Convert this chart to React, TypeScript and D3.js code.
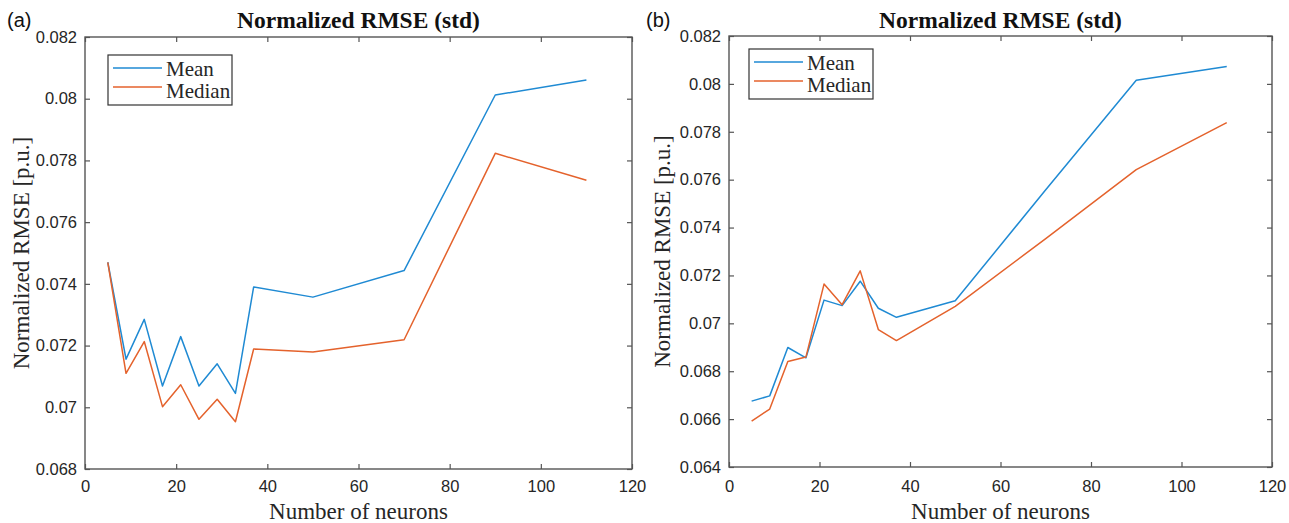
import { useRef, useEffect } from "react";
import * as d3 from "d3";

// number of neurons (x) shared by both panels
const neurons = [5, 9, 13, 17, 21, 25, 29, 33, 37, 50, 70, 90, 110];

// panel (a)
const meanA = [0.0747, 0.07156, 0.07285, 0.07069, 0.07229, 0.07069, 0.07141, 0.07045, 0.0739, 0.07357, 0.07443, 0.08012, 0.08061];
const medianA = [0.0747, 0.0711, 0.07213, 0.07002, 0.07073, 0.06961, 0.07026, 0.06953, 0.07189, 0.07179, 0.07219, 0.07823, 0.07736];

// panel (b)
const meanB = [0.06675, 0.06697, 0.06899, 0.06856, 0.07097, 0.07074, 0.07176, 0.07063, 0.07025, 0.07094, 0.07558, 0.08015, 0.08073];
const medianB = [0.06592, 0.06642, 0.06841, 0.06859, 0.07164, 0.07078, 0.07219, 0.06974, 0.06928, 0.07071, 0.07354, 0.07642, 0.07838];

const xTicks = [0, 20, 40, 60, 80, 100, 120];
const yTicksA = [0.068, 0.07, 0.072, 0.074, 0.076, 0.078, 0.08, 0.082];
const yTicksB = [0.064, 0.066, 0.068, 0.07, 0.072, 0.074, 0.076, 0.078, 0.08, 0.082];

const seriesNames = ["Mean", "Median"];
const title = "Normalized RMSE (std)";
const xLabel = "Number of neurons";
const yLabel = "Normalized RMSE [p.u.]";

const W = 1289, H = 523;
const colors = ["#1f8ad3", "#e4622c"];
const axisColor = "#555";
const textColor = "#262626";
const sans = "'Liberation Sans', Arial, sans-serif";
const serif = "'Liberation Serif', 'Times New Roman', serif";

const panels = [
  { tag: "(a)", tagX: 7, left: 85, right: 632, top: 37, bottom: 469, yTicks: yTicksA, mean: meanA, median: medianA, legX: 108, legY: 55, yLabX: 29 },
  { tag: "(b)", tagX: 646, left: 729, right: 1272, top: 36, bottom: 467, yTicks: yTicksB, mean: meanB, median: medianB, legX: 749, legY: 49, yLabX: 670 },
];

const fmt = (v) => String(+v.toFixed(3));

export default function App() {
  const svgRef = useRef(null);

  useEffect(() => {
    const svg = d3.select(svgRef.current);
    svg.selectAll("*").remove();

    panels.forEach((p) => {
      const x = d3.scaleLinear([0, 120], [p.left, p.right]);
      const y = d3.scaleLinear([p.yTicks[0], p.yTicks[p.yTicks.length - 1]], [p.bottom, p.top]);
      const g = svg.append("g");

      const styleAxis = (sel) => {
        sel.select(".domain").remove();
        sel.selectAll("line").attr("stroke", axisColor).attr("stroke-width", 1.2);
        sel.selectAll("text").attr("fill", textColor);
        sel.attr("font-family", sans).attr("font-size", 16.5);
      };

      g.append("g")
        .attr("transform", `translate(0,${p.bottom})`)
        .call(d3.axisBottom(x).tickValues(xTicks).tickSizeInner(-5).tickSizeOuter(0))
        .call(styleAxis)
        .call((s) => s.selectAll("text").attr("dy", null).attr("y", 492 - p.bottom));
      g.append("g")
        .attr("transform", `translate(0,${p.top})`)
        .call(d3.axisTop(x).tickValues(xTicks).tickSizeInner(-5).tickSizeOuter(0).tickFormat(() => ""))
        .call(styleAxis);
      g.append("g")
        .attr("transform", `translate(${p.left},0)`)
        .call(d3.axisLeft(y).tickValues(p.yTicks).tickSizeInner(-5).tickSizeOuter(0).tickPadding(8).tickFormat(fmt))
        .call(styleAxis);
      g.append("g")
        .attr("transform", `translate(${p.right},0)`)
        .call(d3.axisRight(y).tickValues(p.yTicks).tickSizeInner(-5).tickSizeOuter(0).tickFormat(() => ""))
        .call(styleAxis);

      g.append("rect")
        .attr("x", p.left).attr("y", p.top)
        .attr("width", p.right - p.left).attr("height", p.bottom - p.top)
        .attr("fill", "none").attr("stroke", axisColor).attr("stroke-width", 1.4);

      const line = d3.line().x((d) => x(d[0])).y((d) => y(d[1]));
      [p.mean, p.median].forEach((vals, i) => {
        g.append("path")
          .datum(neurons.map((n, k) => [n, vals[k]]))
          .attr("d", line)
          .attr("fill", "none")
          .attr("stroke", colors[i])
          .attr("stroke-width", 1.5)
          .attr("stroke-linejoin", "round");
      });

      // legend
      const leg = g.append("g").attr("transform", `translate(${p.legX},${p.legY})`);
      leg.append("rect").attr("width", 124).attr("height", 50)
        .attr("fill", "white").attr("stroke", "#333").attr("stroke-width", 1.2);
      seriesNames.forEach((name, i) => {
        leg.append("line").attr("x1", 5).attr("x2", 54).attr("y1", 13 + i * 19).attr("y2", 13 + i * 19)
          .attr("stroke", colors[i]).attr("stroke-width", 1.5);
        leg.append("text").attr("x", 58).attr("y", 21 + i * 22)
          .attr("font-family", serif).attr("font-size", 21).attr("fill", textColor).text(name);
      });

      // titles and labels
      const cx = (p.left + p.right) / 2;
      g.append("text").attr("x", cx).attr("y", 28).attr("text-anchor", "middle")
        .attr("font-family", serif).attr("font-size", 23.5).attr("font-weight", "bold").attr("fill", "#111").text(title);
      g.append("text").attr("x", cx).attr("y", 519).attr("text-anchor", "middle")
        .attr("font-family", serif).attr("font-size", 23).attr("fill", textColor).text(xLabel);
      g.append("text")
        .attr("transform", `translate(${p.yLabX},${(p.top + p.bottom) / 2}) rotate(-90)`)
        .attr("text-anchor", "middle")
        .attr("font-family", serif).attr("font-size", 23).attr("fill", textColor).text(yLabel);
      g.append("text").attr("x", p.tagX).attr("y", 27)
        .attr("font-family", sans).attr("font-size", 20).attr("fill", "#111").text(p.tag);
    });
  }, []);

  return (
    <svg
      ref={svgRef}
      width={W}
      height={H}
      style={{ position: "absolute", left: 0, top: 0, background: "white" }}
    />
  );
}
